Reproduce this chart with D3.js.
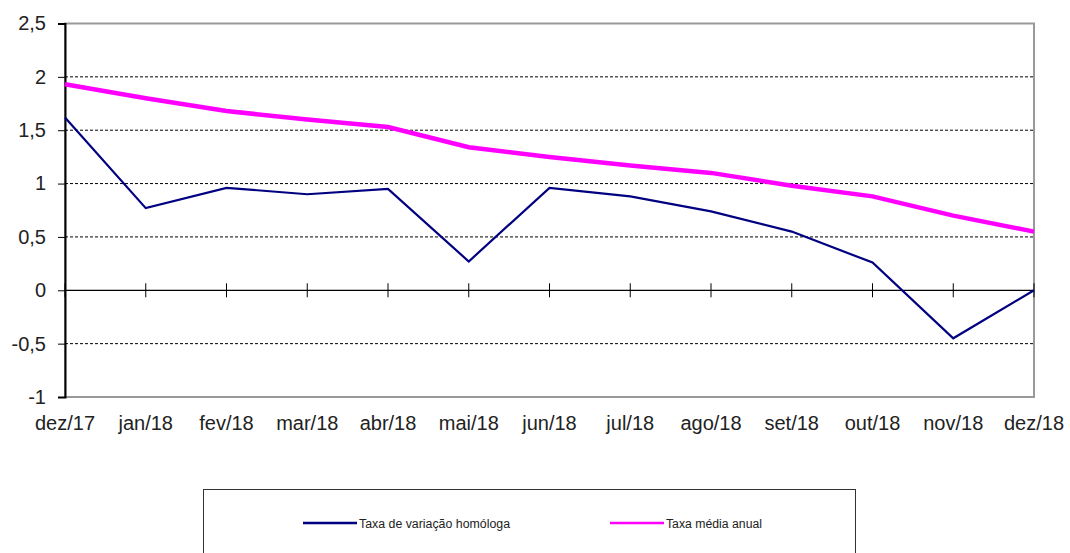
<!DOCTYPE html>
<html>
<head>
<meta charset="utf-8">
<script src="https://cdn.jsdelivr.net/npm/d3@7"></script>
<style>
  body { margin: 0; background: #fff; }
  svg { font-family: "Liberation Sans", Arial, sans-serif; }
</style>
</head>
<body>
<svg id="chart" width="1070" height="553"></svg>
<script>
// dados
const meses = ["dez/17", "jan/18", "fev/18", "mar/18", "abr/18", "mai/18", "jun/18",
               "jul/18", "ago/18", "set/18", "out/18", "nov/18", "dez/18"];
const taxaHomologa = [1.62, 0.77, 0.96, 0.90, 0.95, 0.27, 0.96, 0.88, 0.74, 0.55, 0.26, -0.45, 0.0];
const taxaMedia = [1.93, 1.80, 1.68, 1.60, 1.53, 1.34, 1.25, 1.17, 1.10, 0.98, 0.88, 0.70, 0.55];
const yTicks = [-1, -0.5, 0, 0.5, 1, 1.5, 2, 2.5];

const svg = d3.select("#chart");
const mLeft = 65, mRight = 1034, mTop = 23.5, mBottom = 397;

const x = d3.scalePoint().domain(meses).range([mLeft, mRight]);
const y = d3.scaleLinear().domain([-1, 2.5]).range([mBottom, mTop]);
const fmt = d => String(d).replace(".", ",");

// grelha
svg.selectAll("line.grid").data(yTicks.filter(d => d !== 0 && d !== -1 && d !== 2.5)).enter()
  .append("line").attr("class", "grid")
  .attr("x1", mLeft).attr("x2", mRight)
  .attr("y1", d => y(d)).attr("y2", d => y(d))
  .attr("stroke", "#000").attr("stroke-width", 1).attr("stroke-dasharray", "3,2");

// moldura cinzenta
svg.append("rect").attr("x", mLeft).attr("y", y(2.5)).attr("width", mRight - mLeft).attr("height", y(-1) - y(2.5))
  .attr("fill", "none").attr("stroke", "#999").attr("stroke-width", 2);

// eixo y
const yAxis = svg.append("g").attr("transform", `translate(${mLeft},0)`)
  .call(d3.axisLeft(y).tickValues(yTicks).tickSize(7).tickPadding(12).tickFormat(fmt));
yAxis.select(".domain").attr("stroke", "#000").attr("stroke-width", 2);
yAxis.selectAll("text").attr("font-size", 20).attr("fill", "#222");

// linha do zero com marcas
svg.append("line").attr("x1", mLeft).attr("x2", mRight).attr("y1", y(0)).attr("y2", y(0))
  .attr("stroke", "#000").attr("stroke-width", 1.3);
svg.selectAll("line.xtick").data(meses).enter().append("line").attr("class", "xtick")
  .attr("x1", d => x(d)).attr("x2", d => x(d))
  .attr("y1", y(0) - 7).attr("y2", y(0) + 7)
  .attr("stroke", "#000").attr("stroke-width", 1);

// rótulos x
svg.selectAll("text.xlab").data(meses).enter().append("text").attr("class", "xlab")
  .attr("x", d => x(d)).attr("y", 430)
  .attr("text-anchor", "middle").attr("font-size", 20).attr("fill", "#222")
  .text(d => d);

// linhas
const line = d3.line().x((d, i) => x(meses[i])).y(d => y(d));
svg.append("path").datum(taxaMedia).attr("d", line)
  .attr("fill", "none").attr("stroke", "#ff00ff").attr("stroke-width", 4.5);
svg.append("path").datum(taxaHomologa).attr("d", line)
  .attr("fill", "none").attr("stroke", "#000080").attr("stroke-width", 2.2);

// legenda
svg.append("rect").attr("x", 203.5).attr("y", 489.5).attr("width", 652).attr("height", 80)
  .attr("fill", "#fff").attr("stroke", "#333").attr("stroke-width", 1);
const legenda = [
  { nome: "Taxa de variação homóloga", cor: "#000080", x: 303, len: 151 },
  { nome: "Taxa média anual", cor: "#ff00ff", x: 610, len: 96 }
];
const lg = svg.selectAll("g.leg").data(legenda).enter().append("g").attr("class", "leg")
  .attr("transform", d => `translate(${d.x},523)`);
lg.append("line").attr("x1", 0).attr("x2", 54).attr("y1", 0).attr("y2", 0)
  .attr("stroke", d => d.cor).attr("stroke-width", 2.5);
lg.append("text").attr("x", 56).attr("y", 4.5).attr("font-size", 12).attr("fill", "#222")
  .attr("textLength", d => d.len).attr("lengthAdjust", "spacingAndGlyphs")
  .text(d => d.nome);
</script>
</body>
</html>
